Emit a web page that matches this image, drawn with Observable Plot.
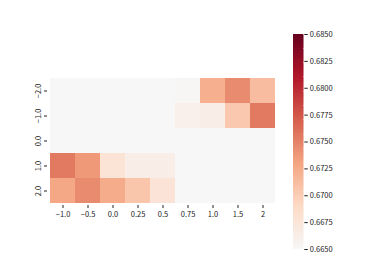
<!DOCTYPE html>
<html>
<head>
<meta charset="utf-8">
<script src="https://cdn.jsdelivr.net/npm/d3@7"></script>
<script src="https://cdn.jsdelivr.net/npm/@observablehq/plot@0.6"></script>
<style>
  html, body { margin: 0; padding: 0; background: #fff; }
  #wrap { position: relative; width: 374px; height: 280px; }
  #wrap > svg, #wrap > figure { position: absolute; left: 0; top: 0; margin: 0; }
</style>
</head>
<body>
<div id="wrap"></div>
<script>
// ---- data ----
const cols = ["−1.0", "−0.5", "0.0", "0.25", "0.5", "0.75", "1.0", "1.5", "2"];
const rows = ["−2.0", "−1.0", "0.0", "1.0", "2.0"];
const rowM2 = [0.665, 0.665, 0.665, 0.665, 0.665, 0.6652, 0.6722, 0.6745, 0.6712];
const rowM1 = [0.665, 0.665, 0.665, 0.665, 0.665, 0.6660, 0.6663, 0.6704, 0.6755];
const row0  = [0.665, 0.665, 0.665, 0.665, 0.665, 0.665, 0.665, 0.665, 0.665];
const rowP1 = [0.6755, 0.6737, 0.6678, 0.6663, 0.6663, 0.665, 0.665, 0.665, 0.665];
const rowP2 = [0.6728, 0.6745, 0.6725, 0.6706, 0.6677, 0.665, 0.665, 0.665, 0.665];
const colorTicks = [0.665, 0.6675, 0.67, 0.6725, 0.675, 0.6775, 0.68, 0.6825, 0.685];

// ---- build table ----
const rowValues = [rowM2, rowM1, row0, rowP1, rowP2];
const cells = [];
rows.forEach((r, i) => cols.forEach((c, j) => cells.push({row: r, col: c, value: rowValues[i][j]})));

const vmin = 0.665, vmax = 0.685;
const stops = [0, 0.2, 0.4, 0.6, 0.8, 1].map(t => vmin + t * (vmax - vmin));
const colorScale = {
  type: "linear",
  domain: stops,
  range: ["#f7f7f7", "#fddbc7", "#f4a582", "#d6604d", "#b2182b", "#67001f"],
  interpolate: "rgb",
  clamp: true
};
const font = "'Noto Sans CJK SC', 'DejaVu Sans', sans-serif";
const wrap = document.getElementById("wrap");

const heat = Plot.plot({
  width: 374, height: 280,
  marginLeft: 47, marginRight: 95.7, marginTop: 76.7, marginBottom: 75,
  style: {fontFamily: font, fontSize: "7.5px", color: "#222", background: "transparent"},
  x: {domain: cols, padding: 0, label: null},
  y: {domain: rows, padding: 0, label: null},
  color: colorScale,
  marks: [
    Plot.cell(cells, {x: "col", y: "row", fill: "value", inset: 0, shapeRendering: "crispEdges"}),
    Plot.axisX({tickSize: 3, tickPadding: 3.5, label: null}),
    Plot.axisY({tickSize: 3, tickPadding: 4, tickRotate: -90, label: null})
  ]
});
wrap.appendChild(heat);

// colorbar
const nSlices = 200;
const slices = d3.range(nSlices).map(i => {
  const a = vmin + (vmax - vmin) * i / nSlices;
  const b = vmin + (vmax - vmin) * (i + 1) / nSlices;
  return {a, b, mid: (a + b) / 2};
});
const bar = Plot.plot({
  width: 374, height: 280,
  marginLeft: 293.3, marginRight: 70.7, marginTop: 34, marginBottom: 31,
  style: {fontFamily: font, fontSize: "7.5px", color: "#222", background: "transparent"},
  x: {domain: [0, 1], axis: null},
  y: {domain: [vmin, vmax], label: null},
  color: colorScale,
  marks: [
    Plot.rect(slices, {x1: 0, x2: 1, y1: "a", y2: "b", fill: "mid", stroke: "mid", strokeWidth: 0.3, shapeRendering: "crispEdges"}),
    Plot.axisY({anchor: "right", ticks: colorTicks, tickFormat: d => d.toFixed(4), tickSize: 3.5, tickPadding: 2.5, label: null})
  ]
});
wrap.appendChild(bar);
</script>
</body>
</html>
